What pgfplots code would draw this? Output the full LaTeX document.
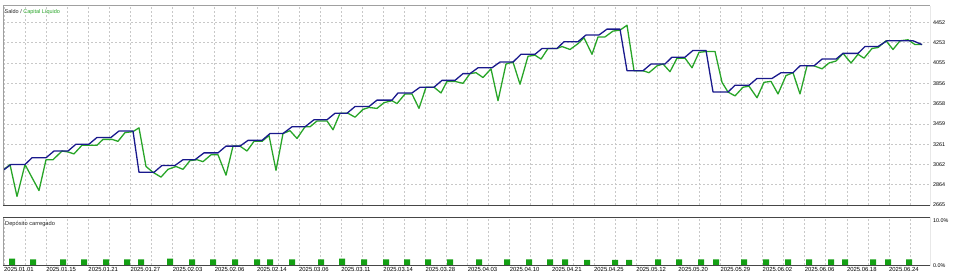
\documentclass[border=0pt]{standalone}
\usepackage{fontspec}
\setmainfont{Liberation Sans}
\usepackage{pgfplots}
\pgfplotsset{compat=1.18}
\definecolor{bal}{RGB}{25,25,140}
\definecolor{eq}{RGB}{40,165,40}
\definecolor{dep}{RGB}{20,160,20}
\definecolor{gridc}{RGB}{200,200,200}
\definecolor{frameL}{RGB}{160,160,160}
\definecolor{frameD}{RGB}{70,70,70}
\begin{document}
\begin{tikzpicture}[x=1bp,y=1bp]
\pgfplotsset{
  mt/.style={
    scale only axis, width=927bp, xmin=3, xmax=930,
    axis line style={draw=none},
    major tick length=0pt, minor tick length=0pt,
    xtick={4,46.14,88.28,130.42,172.56,214.7,256.84,298.98,341.12,383.26,425.4,467.54,509.68,551.82,593.96,636.1,678.24,720.38,762.52,804.66,846.8,888.94},
    minor xtick={25.07,67.21,109.35,151.49,193.63,235.77,277.91,320.05,362.19,404.33,446.47,488.61,530.75,572.89,615.03,657.17,699.31,741.45,783.59,825.73,867.87,910.01},
    grid=both,
    major grid style={gridc, dash pattern=on 2bp off 2bp, line width=0.6bp},
    minor grid style={gridc, dash pattern=on 2bp off 2bp, line width=0.6bp},
    yticklabel pos=right,
    yticklabel style={anchor=west, inner sep=0pt, xshift=3bp, font=\fontsize{5.4bp}{6bp}\selectfont},
  }
}
% ---------- top panel ----------
\begin{axis}[mt, at={(3,65.4)}, anchor=south west, height=199.2bp,
  ymin=2665, ymax=4613,
  ytick={2665,2864,3062,3261,3459,3658,3856,4055,4253,4452},
  yticklabels={2665,2864,3062,3261,3459,3658,3856,4055,4253,4452},
  xticklabels={,,}]
\addplot[eq, line width=1.3bp, line join=round] coordinates {
(3,3005)(10,3062)(17,2750)(25,3062)(39,2807)(46,3109)(53,3109)(62,3194)(68,3185)(74,3166)
(82,3251)(97,3251)(103,3308)(112,3308)(118,3289)(125,3374)(133,3384)(139,3421)(146,3043)(153,2986)
(161,2939)(168,3015)(176,3043)(183,3015)(190,3100)(197,3109)(203,3090)(211,3157)(218,3157)(226,2958)
(233,3242)(240,3242)(247,3194)(254,3289)(262,3289)(269,3346)(276,3005)(283,3365)(290,3393)(297,3317)
(305,3431)(310,3431)(317,3488)(327,3488)(333,3402)(340,3563)(348,3563)(355,3525)(363,3601)(369,3620)
(377,3611)(384,3667)(392,3686)(397,3658)(405,3752)(412,3752)(419,3611)(426,3818)(434,3818)(441,3762)
(447,3875)(455,3875)(463,3856)(470,3951)(476,3960)(483,3913)(491,3998)(498,3686)(506,4045)(513,4064)
(520,3847)(528,4121)(535,4131)(541,4093)(548,4197)(557,4197)(562,4216)(570,4187)(578,4244)(584,4301)
(592,4140)(598,4310)(605,4310)(613,4367)(620,4376)(627,4424)(634,3979)(643,3979)(649,3960)(657,4027)
(663,4045)(670,3970)(677,4102)(685,4102)(692,4008)(699,4159)(707,4168)(715,4168)(722,3866)(728,3771)
(735,3733)(743,3818)(749,3828)(757,3715)(764,3866)(771,3875)(778,3752)(786,3932)(793,3960)(800,3752)
(807,4027)(814,4027)(822,3998)(829,4055)(836,4074)(843,4149)(851,4055)(858,4140)(864,4102)(872,4197)
(878,4206)(886,4272)(893,4187)(900,4272)(908,4282)(915,4235)(922,4235)
};
\addplot[bal, line width=1.3bp, line join=round] coordinates {
(3,3005)(11,3062)(25,3062)(32,3128)(46,3128)(54,3194)(68,3194)(76,3261)(89,3261)(97,3327)
(111,3327)(119,3390)(133,3390)(139,2986)(154,2986)(162,3053)(175,3053)(183,3109)(195,3109)(204,3176)
(218,3176)(226,3242)(240,3242)(248,3298)(262,3298)(270,3365)(283,3365)(292,3431)(305,3431)(314,3500)
(327,3500)(335,3563)(347,3563)(355,3629)(369,3629)(377,3692)(392,3692)(398,3762)(412,3762)(420,3818)
(434,3818)(442,3885)(455,3885)(463,3951)(470,3951)(478,4008)(492,4008)(500,4064)(513,4064)(521,4140)
(535,4140)(542,4197)(557,4197)(564,4263)(578,4263)(586,4329)(599,4329)(607,4386)(620,4386)(627,3979)
(643,3979)(651,4045)(665,4045)(672,4112)(685,4112)(693,4178)(706,4178)(713,3771)(728,3771)(735,3837)
(749,3837)(757,3904)(772,3904)(781,3960)(793,3960)(800,4027)(814,4027)(822,4093)(836,4093)(843,4149)
(858,4149)(865,4216)(878,4216)(887,4272)(913,4272)(922,4235)
};
\draw[frameL, line width=1bp] (rel axis cs:0,0) -- (rel axis cs:0,1) -- (rel axis cs:1,1);
\draw[frameD, line width=1bp] (rel axis cs:1,1) -- (rel axis cs:1,0) -- (rel axis cs:0,0);
\node[anchor=north west, inner sep=0pt, font=\fontsize{5.5bp}{6bp}\selectfont, text=black!85]
  at (rel axis cs:0,1) [xshift=1.5bp, yshift=-2.9bp] {Saldo / \textcolor{eq}{Capital Líquido}};
\end{axis}
% ---------- bottom panel ----------
\begin{axis}[mt, at={(3,15.1)}, anchor=south west, height=47.4bp,
  ymin=0, ymax=10.65, ytick={0,10}, yticklabels={0.0\%,10.0\%},
  ymajorgrids=false, yminorgrids=false,
  xticklabels={2025.01.01,2025.01.15,2025.01.21,2025.01.27,2025.02.03,2025.02.06,2025.02.14,2025.03.06,2025.03.11,2025.03.14,2025.03.28,2025.04.03,2025.04.10,2025.04.21,2025.04.25,2025.05.12,2025.05.20,2025.05.29,2025.06.02,2025.06.06,2025.06.18,2025.06.24},
  xticklabel style={anchor=north west, inner sep=0pt, yshift=-1.9bp, font=\fontsize{5.9bp}{6.3bp}\selectfont}]
\addplot[ybar, bar width=6, fill=dep, draw=none] coordinates {
(12,1.5)(33,1.3)(63,1.3)(84,1.3)(106,1.3)(127,1.3)(141,1.3)(170,1.5)(192,1.3)(213,1.3)
(235,1.3)(257,1.3)(270,1.3)(292,1.3)(321,1.3)(342,1.5)(364,1.3)(386,1.3)(407,1.3)(428,1.3)
(450,1.3)(479,1.3)(507,1.3)(529,1.3)(550,1.3)(565,1.3)(587,1.2)(615,1.2)(629,1.2)(658,1.3)
(679,1.3)(701,1.3)(716,1.3)(744,1.3)(766,1.3)(788,1.3)(809,1.3)(831,1.3)(845,1.3)(873,1.3)
(888,1.3)(909,1.3)
};
\draw[frameL, line width=1bp] (rel axis cs:0,0) -- (rel axis cs:0,1);
\draw[frameD, line width=1bp] (rel axis cs:0,1) -- (rel axis cs:1,1) -- (rel axis cs:1,0) -- (rel axis cs:0,0);
\node[anchor=north west, inner sep=0pt, font=\fontsize{5.7bp}{6bp}\selectfont, text=black!85]
  at (rel axis cs:0,1) [xshift=2bp, yshift=-2.9bp] {Depósito carregado};
\end{axis}
\pgfresetboundingbox
\path[use as bounding box] (0,0) rectangle (960,272);
\end{tikzpicture}
\end{document}
